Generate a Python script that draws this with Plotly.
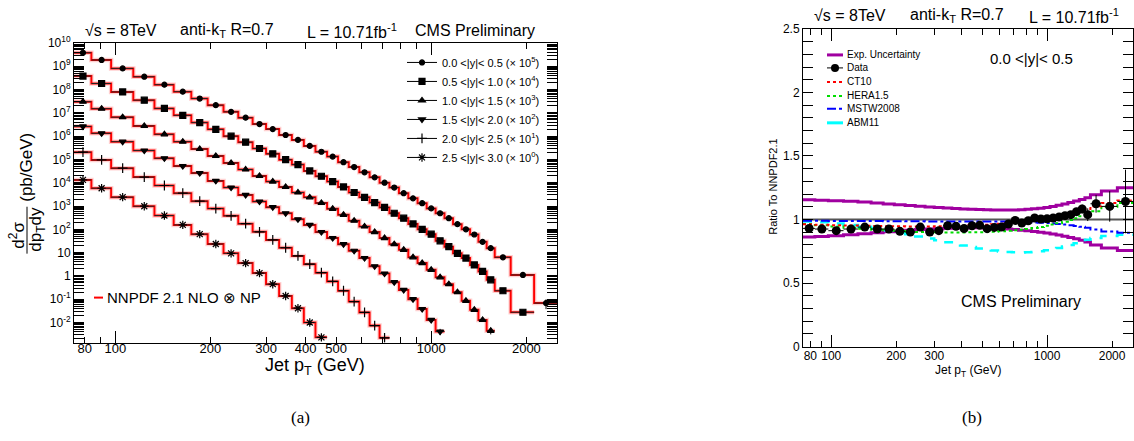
import math
import plotly.graph_objects as go

W, H = 1134, 441
FONT = "Liberation Sans, Arial, sans-serif"

# ---------------- data ----------------
edges = [74, 84, 97, 114, 133, 153, 174, 196, 220, 245, 272, 300, 330, 362, 395,
         430, 468, 507, 548, 592, 638, 686, 737, 790, 846, 905, 967, 1032, 1101,
         1172, 1248, 1327, 1410, 1497, 1588, 1784, 2116, 2500]

rap_labels = ["0.0 <|y|< 0.5 (× 10<sup>5</sup>)", "0.5 <|y|< 1.0 (× 10<sup>4</sup>)",
              "1.0 <|y|< 1.5 (× 10<sup>3</sup>)", "1.5 <|y|< 2.0 (× 10<sup>2</sup>)",
              "2.0 <|y|< 2.5 (× 10<sup>1</sup>)", "2.5 <|y|< 3.0 (× 10<sup>0</sup>)"]

xsec_y0 = [3.8e9, 1.86e9, 8.1e8, 3.55e8, 1.62e8, 8.1e7, 4.1e7, 2.14e7, 1.1e7, 6.2e6,
           3.3e6, 2.0e6, 1.12e6, 6.9e5, 3.8e5, 2.14e5, 1.32e5, 7.6e4, 4.7e4, 2.8e4,
           1.7e4, 1.0e4, 6.2e3, 3.55e3, 2.14e3, 1.32e3, 7.9e2, 4.9e2, 3.0e2, 1.66e2,
           1.0e2, 60, 29, 15.5, 6.3, 1.1, 0.068]
xsec_y1 = [3.8e8, 1.82e8, 7.9e7, 3.5e7, 1.55e7, 7.8e6, 3.8e6, 1.95e6, 1.0e6, 5.5e5,
           2.95e5, 1.74e5, 9.8e4, 6.0e4, 3.2e4, 1.9e4, 1.12e4, 6.6e3, 3.8e3, 2.35e3,
           1.41e3, 8.7e2, 4.9e2, 3.0e2, 1.7e2, 1.0e2, 62, 32, 18, 9.3, 5.8, 2.95, 1.55,
           0.68, 0.23, 0.0275]
xsec_y2 = [3.0e7, 1.51e7, 6.5e6, 2.75e6, 1.2e6, 5.8e5, 2.8e5, 1.41e5, 7.1e4, 3.7e4,
           1.95e4, 1.12e4, 6.6e3, 3.8e3, 2.35e3, 1.35e3, 7.6e2, 4.2e2, 2.35e2, 1.32e2,
           76, 42, 23, 13.2, 6.3, 3.55, 1.82, 0.87, 0.44, 0.2, 0.085, 0.035, 0.0129, 0.0044]
xsec_y3 = [2.6e6, 1.32e6, 5.8e5, 2.4e5, 1.12e5, 5.2e4, 2.6e4, 1.2e4, 6.2e3, 3.0e3,
           1.55e3, 8.9e2, 4.9e2, 2.7e2, 1.55e2, 76, 42, 23, 12, 5.8, 2.6, 1.26, 0.54,
           0.25, 0.1, 0.038, 0.0129, 0.0041]
xsec_y4 = [2.05e5, 9.5e4, 4.2e4, 1.74e4, 7.6e3, 3.55e3, 1.62e3, 7.8e2, 3.8e2, 1.74e2,
           78, 35, 16.2, 7.2, 3.2, 1.38, 0.58, 0.23, 0.079, 0.027, 0.0074, 0.0022]
xsec_y5 = [1.32e4, 5.8e3, 2.4e3, 9.8e2, 3.9e2, 1.55e2, 62, 23.4, 9.3, 3.55, 1.32, 0.44,
           0.138, 0.041, 0.01, 0.0023]

# relative stat. errors (only the tails are visible)
relerr_y0 = [0.01]*32 + [0.03, 0.05, 0.08, 0.15, 0.45]
relerr_y1 = [0.01]*32 + [0.04, 0.06, 0.1, 0.25]
relerr_y2 = [0.01]*30 + [0.05, 0.08, 0.15, 0.3]
relerr_y3 = [0.01]*24 + [0.05, 0.08, 0.15, 0.3]
relerr_y4 = [0.01]*18 + [0.05, 0.08, 0.15, 0.3]
relerr_y5 = [0.01]*12 + [0.05, 0.08, 0.15, 0.3]

# ratio panel (|y|<0.5)
ratio_data = [0.930, 0.925, 0.912, 0.925, 0.940, 0.925, 0.925, 0.907, 0.902, 0.940,
              0.902, 0.912, 0.951, 0.946, 0.929, 0.951, 0.954, 0.928, 0.938, 0.941,
              0.965, 0.993, 0.972, 0.990, 1.012, 1.004, 1.006, 1.012, 1.020, 1.030,
              1.038, 1.062, 1.083, 1.038, 1.124, 1.103, 1.142]
ratio_err = [0.008, 0.008, 0.008, 0.008, 0.008, 0.008, 0.008, 0.008, 0.008, 0.008,
             0.008, 0.008, 0.008, 0.008, 0.008, 0.008, 0.008, 0.008, 0.008, 0.008,
             0.008, 0.008, 0.009, 0.01, 0.01, 0.011, 0.012, 0.013, 0.015, 0.018,
             0.022, 0.028, 0.035, 0.05, 0.07, 0.12, 0.25]
exp_up = [1.155, 1.152, 1.148, 1.143, 1.137, 1.130, 1.123, 1.116, 1.110, 1.104, 1.099,
          1.094, 1.090, 1.086, 1.083, 1.080, 1.078, 1.076, 1.075, 1.074, 1.074, 1.075,
          1.077, 1.080, 1.084, 1.089, 1.095, 1.103, 1.112, 1.122, 1.133, 1.145, 1.158,
          1.172, 1.195, 1.225, 1.250]
exp_dn = [0.862, 0.866, 0.872, 0.879, 0.887, 0.895, 0.903, 0.910, 0.916, 0.921, 0.925,
          0.928, 0.931, 0.933, 0.934, 0.935, 0.935, 0.934, 0.932, 0.929, 0.925, 0.921,
          0.916, 0.911, 0.905, 0.899, 0.893, 0.886, 0.878, 0.869, 0.859, 0.848, 0.836,
          0.823, 0.800, 0.775, 0.755]
ratio_ct10 = [0.962, 0.958, 0.955, 0.952, 0.950, 0.948, 0.947, 0.946, 0.945, 0.945,
              0.945, 0.946, 0.947, 0.948, 0.950, 0.952, 0.955, 0.958, 0.962, 0.966,
              0.970, 0.975, 0.980, 0.986, 0.992, 0.999, 1.006, 1.014, 1.023, 1.033,
              1.044, 1.056, 1.069, 1.083, 1.105, 1.130, 1.150]
ratio_hera = [0.965, 0.955, 0.945, 0.935, 0.927, 0.920, 0.914, 0.909, 0.905, 0.902,
              0.900, 0.899, 0.898, 0.898, 0.898, 0.899, 0.900, 0.902, 0.904, 0.907,
              0.911, 0.915, 0.920, 0.926, 0.933, 0.941, 0.950, 0.960, 0.971, 0.983,
              0.996, 1.010, 1.025, 1.041, 1.065, 1.100, 1.130]
ratio_mstw = [0.990, 0.990, 0.989, 0.989, 0.988, 0.988, 0.987, 0.987, 0.986, 0.986,
              0.985, 0.985, 0.985, 0.985, 0.985, 0.985, 0.985, 0.985, 0.985, 0.984,
              0.983, 0.982, 0.981, 0.979, 0.977, 0.975, 0.972, 0.969, 0.965, 0.960,
              0.955, 0.949, 0.942, 0.935, 0.922, 0.905, 0.895]
ratio_abm = [0.985, 0.978, 0.968, 0.956, 0.943, 0.929, 0.914, 0.899, 0.883, 0.867,
             0.851, 0.836, 0.821, 0.808, 0.795, 0.783, 0.772, 0.763, 0.755, 0.749,
             0.745, 0.742, 0.741, 0.742, 0.745, 0.750, 0.757, 0.766, 0.776, 0.788,
             0.800, 0.813, 0.826, 0.840, 0.855, 0.870, 0.880]

x_tickvals = [80, 100, 200, 300, 400, 500, 1000, 2000]
x_tickvals_r = [80, 100, 200, 300, 1000, 2000]
y_tickvals = [1e-2, 1e-1, 1, 10, 1e2, 1e3, 1e4, 1e5, 1e6, 1e7, 1e8, 1e9, 1e10]
y_ticktext = ["10<sup>-2</sup>", "10<sup>-1</sup>", "1", "10", "10<sup>2</sup>",
              "10<sup>3</sup>", "10<sup>4</sup>", "10<sup>5</sup>", "10<sup>6</sup>",
              "10<sup>7</sup>", "10<sup>8</sup>", "10<sup>9</sup>", "10<sup>10</sup>"]

# ---------------- helpers ----------------
# the photographed page shows the figure vertically mapped to [9, 434.6]
Y0, YH = 9.0, 425.6

def px(x):
    return x / W

def py(y):
    return 1 - (y - Y0) / YH

def steps(vals):
    e = edges[:len(vals) + 1]
    return e, list(vals) + [vals[-1]]

def centers(n):
    e = edges[:n + 1]
    c = [(e[i] + e[i + 1]) / 2 for i in range(n)]
    lo = [c[i] - e[i] for i in range(n)]
    hi = [e[i + 1] - c[i] for i in range(n)]
    return c, lo, hi

fig = go.Figure()

series = [xsec_y0, xsec_y1, xsec_y2, xsec_y3, xsec_y4, xsec_y5]
errs = [relerr_y0, relerr_y1, relerr_y2, relerr_y3, relerr_y4, relerr_y5]
symbols = ["circle", "square", "triangle-up", "triangle-down", "cross-thin", "asterisk"]
msizes = [5, 6, 6, 6, 7, 7]

for vals, rel, sym, ms in zip(series, errs, symbols, msizes):
    sx, sy = steps(vals)
    fig.add_trace(go.Scatter(x=sx, y=sy, mode="lines", line_shape="hv",
                             line=dict(color="rgba(255,120,120,0.35)", width=4.5),
                             showlegend=False, hoverinfo="skip", xaxis="x", yaxis="y"))
    fig.add_trace(go.Scatter(x=sx, y=sy, mode="lines", line_shape="hv",
                             line=dict(color="#ff0000", width=2),
                             showlegend=False, xaxis="x", yaxis="y"))
    c, lo, hi = centers(len(vals))
    fig.add_trace(go.Scatter(
        x=c, y=vals, mode="markers",
        marker=dict(symbol=sym, size=ms, color="black",
                    line=dict(color="black", width=1.2)),
        error_x=dict(type="data", symmetric=False, array=hi, arrayminus=lo,
                     color="#222222", thickness=1, width=0),
        error_y=dict(type="data", array=[v * r for v, r in zip(vals, rel)],
                     color="black", thickness=1, width=0),
        showlegend=False, xaxis="x", yaxis="y"))

for lab, sym, ms in zip(rap_labels, symbols, msizes):
    fig.add_trace(go.Scatter(x=[None], y=[None], mode="lines+markers", name=lab,
                             marker=dict(symbol=sym, size=ms, color="black",
                                         line=dict(color="black", width=1.2)),
                             line=dict(color="black", width=1),
                             legend="legend", xaxis="x", yaxis="y"))

# ---------- ratio panel ----------
for vals, col, dash, wid in [(exp_up, "#a000a0", "solid", 3), (exp_dn, "#a000a0", "solid", 3),
                             (ratio_abm, "#00ffff", "dash", 2.5),
                             (ratio_mstw, "#0000ff", "dashdot", 2),
                             (ratio_hera, "#00dd00", "dot", 2),
                             (ratio_ct10, "#ff0000", "dot", 2)]:
    sx, sy = steps(vals)
    fig.add_trace(go.Scatter(x=sx, y=sy, mode="lines", line_shape="hv",
                             line=dict(color=col, width=wid, dash=dash),
                             showlegend=False, xaxis="x2", yaxis="y2"))

c, lo, hi = centers(len(ratio_data))
fig.add_trace(go.Scatter(
    x=c, y=ratio_data, mode="markers",
    marker=dict(symbol="circle", size=9, color="black"),
    error_x=dict(type="data", symmetric=False, array=hi, arrayminus=lo,
                 color="black", thickness=1, width=0),
    error_y=dict(type="data", array=ratio_err, color="black", thickness=1, width=0),
    showlegend=False, xaxis="x2", yaxis="y2"))

# ---------- axes ----------
xr = [math.log10(74), math.log10(2500)]
common = dict(showgrid=False, zeroline=False, showline=True, linecolor="black",
              linewidth=1, mirror="allticks", ticks="inside", tickcolor="black",
              tickfont=dict(family=FONT, size=12, color="black"))
common_x = {k: v for k, v in common.items() if k != "tickfont"}

fig.update_layout(
    xaxis=dict(domain=[px(74), px(557)], type="log", range=xr, anchor="y",
               tickvals=x_tickvals, ticktext=[str(v) for v in x_tickvals], ticklen=6,
               minor=dict(tickvals=[90, 600, 700, 800, 900], ticks="inside", ticklen=6,
                          tickcolor="black"),
               tickfont=dict(family=FONT, size=13, color="black"), ticklabelstandoff=-6,
               **common_x),
    xaxis3=dict(overlaying="x", anchor="y", type="log", range=xr, tickvals=[100, 1000],
                ticks="inside", ticklen=12, tickcolor="black", showticklabels=False,
                mirror="allticks", showgrid=False, zeroline=False, showline=False),
    yaxis=dict(domain=[py(343), py(43)], type="log", range=[-2.86, 10], anchor="x",
               tickvals=y_tickvals, ticktext=y_ticktext, ticklen=10,
               minor=dict(tickvals=[m * 10 ** k for k in range(-3, 10) for m in range(2, 10)],
                          ticks="inside", ticklen=5, tickcolor="black"),
               **common),
    xaxis2=dict(domain=[px(803), px(1133)], type="log", range=xr, anchor="y2",
                tickvals=x_tickvals_r, ticktext=[str(v) for v in x_tickvals_r], ticklen=6,
                minor=dict(tickvals=[90, 400, 500, 600, 700, 800, 900], ticks="inside",
                           ticklen=6, tickcolor="black"),
                tickfont=dict(family=FONT, size=12, color="black"), ticklabelstandoff=-2,
                **common_x),
    xaxis4=dict(overlaying="x2", anchor="y2", type="log", range=xr, tickvals=[100, 1000],
                ticks="inside", ticklen=12, tickcolor="black", showticklabels=False,
                mirror="allticks", showgrid=False, zeroline=False, showline=False),
    yaxis2=dict(domain=[py(347), py(29)], range=[0, 2.5], anchor="x2",
                tickvals=[0, 0.5, 1, 1.5, 2, 2.5], ticktext=["0", "0.5", "1", "1.5", "2", "2.5"],
                ticklen=10,
                minor=dict(dtick=0.1, ticks="inside", ticklen=5, tickcolor="black"),
                **common),
)

# invisible traces to activate overlay axes
fig.add_trace(go.Scatter(x=[None], y=[None], xaxis="x3", yaxis="y", showlegend=False))
fig.add_trace(go.Scatter(x=[None], y=[None], xaxis="x4", yaxis="y2", showlegend=False))

# ---------- annotations ----------
ann = []
def text(x, y, s, size, xanchor="center", angle=0, family=FONT):
    ann.append(dict(x=px(x), y=py(y), xref="paper", yref="paper", text=s, showarrow=False,
                    xanchor=xanchor, yanchor="middle", textangle=angle,
                    font=dict(family=family, size=size, color="black")))

# left titles
text(83, 31, "√s = 8TeV", 16, "left")
text(178, 31, "anti-k<sub>T</sub> R=0.7", 16, "left")
text(305, 31, "L = 10.71fb<sup>-1</sup>", 16, "left")
text(413, 31, "CMS Preliminary", 16, "left")
# right titles
text(812, 16, "√s = 8TeV", 16, "left")
text(908, 16, "anti-k<sub>T</sub> R=0.7", 16, "left")
text(1027, 16, "L = 10.71fb<sup>-1</sup>", 16, "left")

# left axis titles
text(17, 236, "d<sup>2</sup>σ", 17, angle=-90)
text(37, 230, "dp<sub>T</sub>dy", 17, angle=-90)
text(27, 168, "(pb/GeV)", 17, angle=-90)
text(315, 367, "Jet p<sub>T</sub> (GeV)", 18)
# right axis titles
text(773, 187, "Ratio To NNPDF2.1", 11, angle=-90)
text(968, 372, "Jet p<sub>T</sub> (GeV)", 12)
text(1031, 59, "0.0 <|y|< 0.5", 15)
text(1021, 302, "CMS Preliminary", 16)

# NNPDF legend
text(105, 298, "NNPDF 2.1 NLO ⊗ NP", 15, "left")

# right legend
leg_rows = [55, 68, 82, 96, 109, 123]
leg_names = ["Exp. Uncertainty", "Data", "CT10", "HERA1.5", "MSTW2008", "ABM11"]
for yy, nm in zip(leg_rows, leg_names):
    text(845, yy, nm, 10, "left")

# captions
text(300, 418, "(a)", 17, family="Liberation Serif, Times New Roman, serif")
text(972, 418, "(b)", 17, family="Liberation Serif, Times New Roman, serif")

shapes = []
shapes.append(dict(type="line", xref="paper", yref="paper", x0=px(27), x1=px(27),
                   y0=py(207), y1=py(254), line=dict(color="black", width=1)))
shapes.append(dict(type="line", xref="paper", yref="paper", x0=px(94), x1=px(103),
                   y0=py(298), y1=py(298), line=dict(color="red", width=2)))
shapes.append(dict(type="line", xref="x2", yref="y2", x0=74, x1=2500, y0=1, y1=1,
                   line=dict(color="#555555", width=2), layer="below"))
leg_styles = [("#a000a0", "solid", 3), ("black", "solid", 1), ("#ff0000", "dot", 2),
              ("#00dd00", "dot", 2), ("#0000ff", "dashdot", 2), ("#00ffff", "solid", 3)]
for yy, (col, dash, wid) in zip(leg_rows, leg_styles):
    shapes.append(dict(type="line", xref="paper", yref="paper", x0=px(827), x1=px(843),
                       y0=py(yy), y1=py(yy), line=dict(color=col, width=wid, dash=dash)))
shapes.append(dict(type="circle", xref="paper", yref="paper", x0=px(831), x1=px(839),
                   y0=py(72), y1=py(64), fillcolor="black", line=dict(color="black", width=0)))

fig.update_layout(
    width=W, height=H, autosize=False, margin=dict(l=0, r=0, t=0, b=0),
    paper_bgcolor="white", plot_bgcolor="white",
    font=dict(family=FONT, color="black"),
    annotations=ann, shapes=shapes,
    legend=dict(x=px(402), y=py(48), xanchor="left", yanchor="top",
                font=dict(family=FONT, size=11, color="black"),
                bgcolor="rgba(0,0,0,0)", tracegroupgap=0, itemwidth=30),
    showlegend=True,
)

fig.write_html(
    "out.html",
    config={"displayModeBar": False},
    post_script=(
        "document.documentElement.style.margin='0';"
        "document.body.style.margin='0';"
        "document.documentElement.style.overflow='hidden';"
    ),
)
